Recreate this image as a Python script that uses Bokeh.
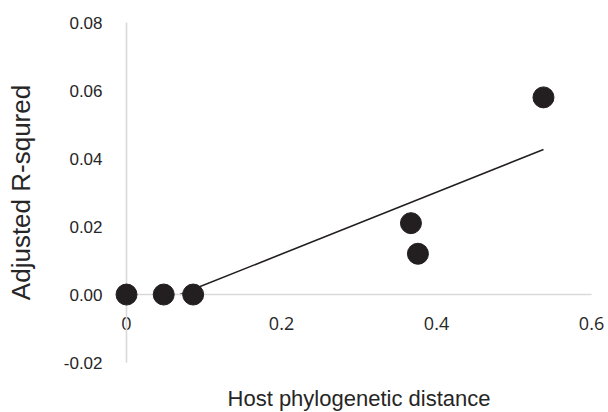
import numpy as np
from bokeh.plotting import figure
from bokeh.models import LinearAxis, FixedTicker, Range1d, NumeralTickFormatter
from bokeh.embed import file_html
from bokeh.resources import INLINE

# Data
distance = [0.0, 0.048, 0.086, 0.367, 0.376, 0.538]
adj_r2 = [0.0, 0.0, 0.0, 0.021, 0.012, 0.058]
x_ticks = [0, 0.2, 0.4, 0.6]
x_tick_labels = ["0", "0.2", "0.4", "0.6"]
y_ticks = [-0.02, 0.0, 0.02, 0.04, 0.06, 0.08]
x_title = "Host phylogenetic distance"
y_title = "Adjusted R-squred"

AXIS_GRAY = "#d9d9d9"
INK = "#231f20"

# The frame fills the whole canvas; the axes cross at (0, 0) inside it.
p = figure(width=608, height=412, output_backend="svg", toolbar_location=None,
           x_range=Range1d(-0.1626, 0.6219), y_range=Range1d(-0.0347, 0.0865),
           x_axis_location=None, y_axis_location=None,
           min_border_left=0, min_border_right=0, min_border_top=0, min_border_bottom=0)
p.outline_line_color = None
p.xgrid.visible = False
p.ygrid.visible = False
p.background_fill_color = "white"
p.border_fill_color = "white"

# x axis crossing at y = 0
xa = LinearAxis(fixed_location=0, bounds=(0, 0.6),
                ticker=FixedTicker(ticks=x_ticks),
                major_label_overrides={t: l for t, l in zip(x_ticks, x_tick_labels)},
                axis_label=x_title)
xa.axis_line_color = AXIS_GRAY
xa.axis_line_width = 1.6
xa.major_tick_line_color = None
xa.minor_tick_line_color = None
xa.major_tick_out = 0
xa.major_label_standoff = 22
xa.major_label_text_font = "Open Sans"
xa.major_label_text_font_size = "18px"
xa.major_label_text_color = "#262626"
xa.axis_label_text_font = "Liberation Sans"
xa.axis_label_text_font_size = "22px"
xa.axis_label_text_font_style = "normal"
xa.axis_label_text_color = "#262626"
xa.axis_label_standoff = 53
p.add_layout(xa, "below")

# y axis crossing at x = 0
ya = LinearAxis(fixed_location=0, bounds=(-0.02, 0.08),
                ticker=FixedTicker(ticks=y_ticks),
                formatter=NumeralTickFormatter(format="0.00"),
                axis_label=y_title)
ya.axis_line_color = AXIS_GRAY
ya.axis_line_width = 1.6
ya.major_tick_line_color = None
ya.minor_tick_line_color = None
ya.major_tick_out = 0
ya.major_label_standoff = 24
ya.major_label_text_font = "Liberation Sans"
ya.major_label_text_font_size = "17px"
ya.major_label_text_color = "#262626"
ya.axis_label_text_font = "Liberation Sans"
ya.axis_label_text_font_size = "26px"
ya.axis_label_text_font_style = "normal"
ya.axis_label_text_color = "#262626"
ya.axis_label_standoff = 25
p.add_layout(ya, "left")

# Linear trendline fitted to the data, drawn from its zero crossing to the largest x
slope, intercept = np.polyfit(distance, adj_r2, 1)
x_start = -intercept / slope
x_end = max(distance)
p.line([x_start, x_end], [slope * x_start + intercept, slope * x_end + intercept],
       line_color=INK, line_width=1.6)

r = p.scatter(distance, adj_r2, size=21, fill_color=INK, line_color=INK)
r.level = "overlay"

open("out.html", "w").write(file_html(p, INLINE))
